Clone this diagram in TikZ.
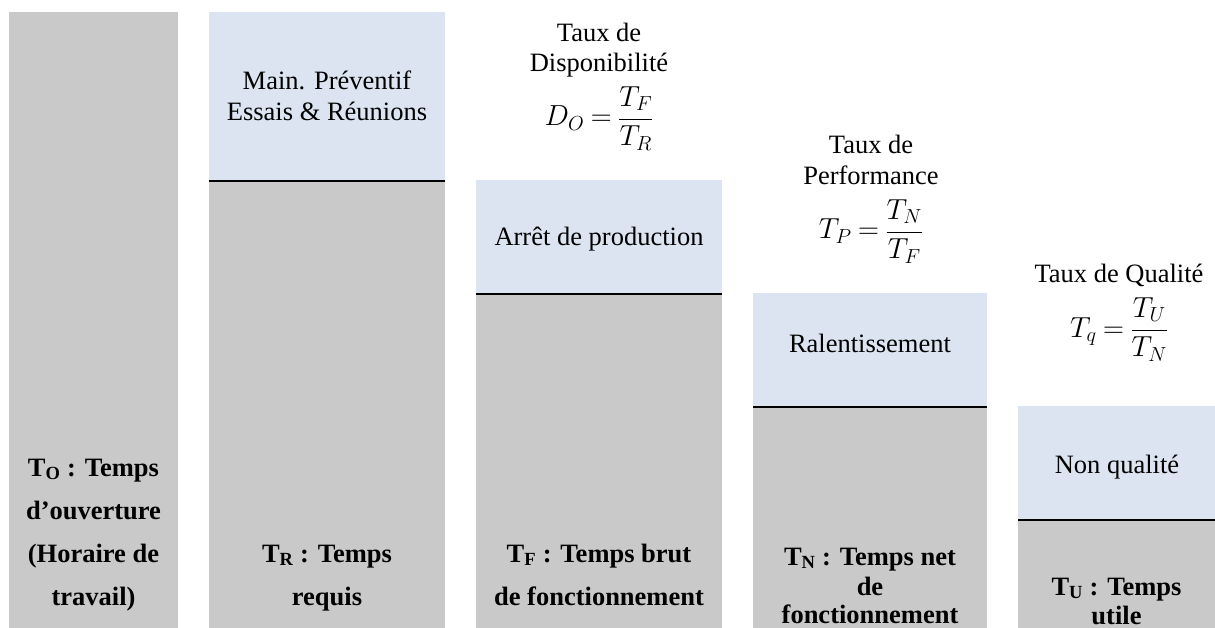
\RequirePackage{fix-cm}
\documentclass[tikz,border=0pt]{standalone}
\usepackage{fontspec}
\setmainfont{Liberation Serif}
\definecolor{bargrey}{RGB}{201,201,201}
\definecolor{barblue}{RGB}{219,228,240}
\newcommand{\frmla}[1]{$\thickmuskip=4mu\relax\displaystyle #1$}
\begin{document}
\begin{tikzpicture}[x=1pt,y=-1pt,
  txt/.style={font=\fontsize{26.5}{31}\selectfont, anchor=base, inner sep=0pt},
  bld/.style={font=\fontsize{26.5}{31}\selectfont\bfseries, anchor=base, inner sep=0pt},
  frm/.style={font=\fontsize{29}{34}\selectfont, anchor=base, inner sep=0pt},
  sep/.style={line width=2pt, black}]
\useasboundingbox (0,0) rectangle (1215,628);
% column 1
\fill[bargrey] (9,12) rectangle (178,628);
% column 2
\fill[barblue] (209,12) rectangle (445,181);
\fill[bargrey] (209,181) rectangle (445,628);
\draw[sep] (209,181) -- (445,181);
% column 3
\fill[barblue] (476,180) rectangle (722,294);
\fill[bargrey] (476,294) rectangle (722,628);
\draw[sep] (476,294) -- (722,294);
% column 4
\fill[barblue] (753,293) rectangle (987,407);
\fill[bargrey] (753,407) rectangle (987,628);
\draw[sep] (753,407) -- (987,407);
% column 5
\fill[barblue] (1018,406) rectangle (1215,520);
\fill[bargrey] (1018,520) rectangle (1215,628);
\draw[sep] (1018,520) -- (1215,520);

% upper texts
\node[txt] (mp1) at (327,90) {Main. Préventif};
\node[txt] (mp2) at (327,121) {Essais \& Réunions};
\node[txt] (td1) at (599,42) {Taux de};
\node[txt] (td2) at (599,72) {Disponibilité};
\node[frm] (fd) at (599,126) {\frmla{D_O=\frac{T_F}{T_R}}};
\node[txt] (arr) at (599,246) {Arrêt de production};
\node[txt] (tp1) at (871,154) {Taux de};
\node[txt] (tp2) at (871,185) {Performance};
\node[frm] (fp) at (871,239) {\frmla{T_P=\frac{T_N}{T_F}}};
\node[txt] (ral) at (870,352) {Ralentissement};
\node[txt] (tq) at (1119,283) {Taux de Qualité};
\node[frm] (fq) at (1119,337) {\frmla{T_q=\frac{T_U}{T_N}}};
\node[txt] (nq) at (1117,473) {Non qualité};

% bottom labels
\node[bld] (o1) at (93.5,476) {T\textsubscript{O} : Temps};
\node[bld] (o2) at (93.5,519) {d’ouverture};
\node[bld] (o3) at (93.5,562) {(Horaire de};
\node[bld] (o4) at (93.5,605) {travail)};
\node[bld] (r1) at (327,562) {T\textsubscript{R} : Temps};
\node[bld] (r2) at (327,605) {requis};
\node[bld] (f1) at (599,562) {T\textsubscript{F} : Temps brut};
\node[bld] (f2) at (599,605) {de fonctionnement};
\node[bld] (n1) at (870,565) {T\textsubscript{N} : Temps net};
\node[bld] (n2) at (870,595) {de};
\node[bld] (n3) at (870,623) {fonctionnement};
\node[bld] (u1) at (1116.5,595) {T\textsubscript{U} : Temps};
\node[bld] (u2) at (1116.5,624) {utile};
\end{tikzpicture}
\end{document}
